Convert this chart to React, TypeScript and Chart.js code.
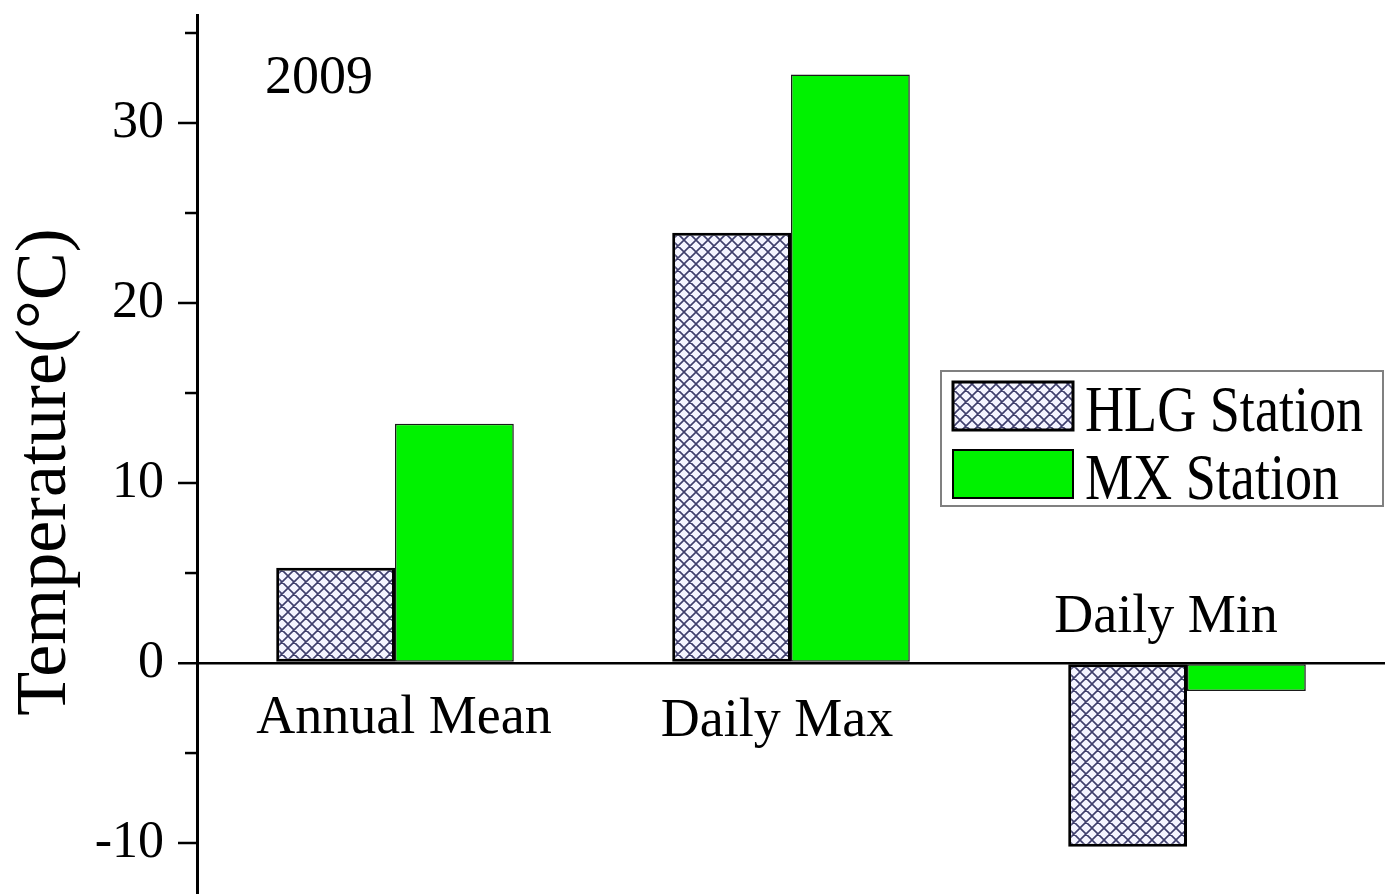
import React, { useEffect, useRef } from 'react';
import { Chart, registerables } from 'chart.js';

Chart.register(...registerables);

const categories = ['Annual Mean', 'Daily Max', 'Daily Min'];
const hlgValues = [5.3, 23.9, -10.2];
const mxValues = [13.3, 32.7, -1.55];
const seriesLabels = ['HLG Station', 'MX Station'];
const yTicks = [-10, 0, 10, 20, 30];
const yMinorTicks = [-5, 5, 15, 25, 35];
const yMin = -12.83;
const yMax = 36;
const yearLabel = '2009';
const yTitle = 'Temperature(°C)';

const SERIF = "'Liberation Serif', 'Times New Roman', serif";
const GREEN = '#00f200';

function makePattern(): CanvasPattern | string {
  const c = document.createElement('canvas');
  c.width = 12;
  c.height = 12;
  const g = c.getContext('2d');
  if (!g) return '#ccccee';
  g.fillStyle = '#f4f4ff';
  g.fillRect(0, 0, 12, 12);
  g.strokeStyle = '#3e3e6c';
  g.lineWidth = 1.6;
  g.beginPath();
  for (const k of [-12, 0, 12]) {
    g.moveTo(k, 0);
    g.lineTo(k + 12, 12);
    g.moveTo(k + 12, 0);
    g.lineTo(k, 12);
  }
  g.stroke();
  return g.createPattern(c, 'repeat') || '#ccccee';
}

export default function App() {
  const ref = useRef<HTMLCanvasElement>(null);

  useEffect(() => {
    document.body.style.margin = '0';
    const pattern = makePattern();
    const canvas = ref.current;
    if (!canvas) return;

    const labelPlacement = [
      { dx: 9, baselineOffset: 70 },
      { dx: -14, baselineOffset: 73 },
      { dx: -21, baselineOffset: -31 },
    ];

    const decor = {
      id: 'decor',
      afterDraw(chart: any) {
        const ctx: CanvasRenderingContext2D = chart.ctx;
        const ys = chart.scales.y;
        const xs = chart.scales.x;
        const area = chart.chartArea;
        ctx.save();
        ctx.strokeStyle = '#000';
        ctx.lineWidth = 2.5;
        yMinorTicks.forEach((v) => {
          const py = ys.getPixelForValue(v);
          ctx.beginPath();
          ctx.moveTo(area.left - 12, py);
          ctx.lineTo(area.left, py);
          ctx.stroke();
        });
        const zeroY = ys.getPixelForValue(0);
        ctx.fillStyle = '#000';
        ctx.font = `54px ${SERIF}`;
        ctx.textAlign = 'center';
        ctx.textBaseline = 'alphabetic';
        categories.forEach((c, i) => {
          const p = labelPlacement[i];
          ctx.fillText(c, xs.getPixelForValue(i) + p.dx, zeroY + p.baselineOffset);
        });
        ctx.textAlign = 'left';
        ctx.fillText(yearLabel, 265, 93);
        ctx.save();
        ctx.translate(46, 472);
        ctx.rotate(-Math.PI / 2);
        ctx.textAlign = 'center';
        ctx.textBaseline = 'middle';
        ctx.font = `72px ${SERIF}`;
        ctx.fillText(yTitle, 0, 0);
        ctx.restore();
        ctx.strokeStyle = '#808080';
        ctx.lineWidth = 2;
        ctx.fillStyle = '#fff';
        ctx.fillRect(941, 371, 442, 135);
        ctx.strokeRect(941, 371, 442, 135);
        const ds = chart.data.datasets;
        const sw = [
          { y: 382, lw: 3 },
          { y: 450, lw: 2 },
        ];
        ds.forEach((d: any, i: number) => {
          ctx.fillStyle = d.backgroundColor;
          ctx.fillRect(953, sw[i].y, 120, 48);
          ctx.strokeStyle = '#000';
          ctx.lineWidth = sw[i].lw;
          ctx.strokeRect(953, sw[i].y, 120, 48);
          ctx.save();
          ctx.translate(1085, sw[i].y + 49);
          ctx.scale(0.82, 1);
          ctx.fillStyle = '#000';
          ctx.font = `66px ${SERIF}`;
          ctx.textAlign = 'left';
          ctx.textBaseline = 'alphabetic';
          ctx.fillText(d.label, 0, 0);
          ctx.restore();
        });
        ctx.restore();
      },
    };

    const chart = new Chart(canvas, {
      type: 'bar',
      data: {
        labels: categories,
        datasets: [
          {
            label: seriesLabels[0],
            data: hlgValues,
            backgroundColor: pattern as any,
            borderColor: '#000',
            borderWidth: 3,
            borderSkipped: false,
          },
          {
            label: seriesLabels[1],
            data: mxValues,
            backgroundColor: GREEN,
            borderColor: '#1a1a1a',
            borderWidth: 1.5,
            borderSkipped: false,
          },
        ],
      },
      options: {
        responsive: false,
        animation: false,
        devicePixelRatio: 1,
        layout: { padding: { top: 15, right: 0, bottom: 0, left: 0 } },
        datasets: {
          bar: { categoryPercentage: 0.6, barPercentage: 1 },
        },
        plugins: {
          legend: { display: false },
          tooltip: { enabled: false },
          title: { display: false },
        },
        scales: {
          x: {
            type: 'category',
            display: false,
            offset: true,
          },
          y: {
            type: 'linear',
            min: yMin,
            max: yMax,
            afterBuildTicks: (s: any) => {
              s.ticks = yTicks.map((v) => ({ value: v }));
            },
            afterFit: (s: any) => {
              s.width = 197;
              s.paddingTop = 0;
              s.paddingBottom = 0;
            },
            ticks: {
              color: '#000',
              font: { family: SERIF, size: 52 },
              padding: 14,
            },
            grid: {
              drawOnChartArea: true,
              drawTicks: true,
              tickLength: 19,
              tickColor: '#000',
              tickWidth: 2.5,
              color: (c: any) => (c.tick && c.tick.value === 0 ? '#000' : 'rgba(0,0,0,0)'),
              lineWidth: (c: any) => (c.tick && c.tick.value === 0 ? 2.5 : 0),
            },
            border: { display: true, color: '#000', width: 3 },
          },
        },
      },
      plugins: [decor],
    });

    return () => chart.destroy();
  }, []);

  return (
    <div style={{ position: 'absolute', left: 0, top: 0, width: 1385, height: 894, background: '#fff' }}>
      <canvas ref={ref} width={1385} height={894} style={{ display: 'block' }} />
    </div>
  );
}
